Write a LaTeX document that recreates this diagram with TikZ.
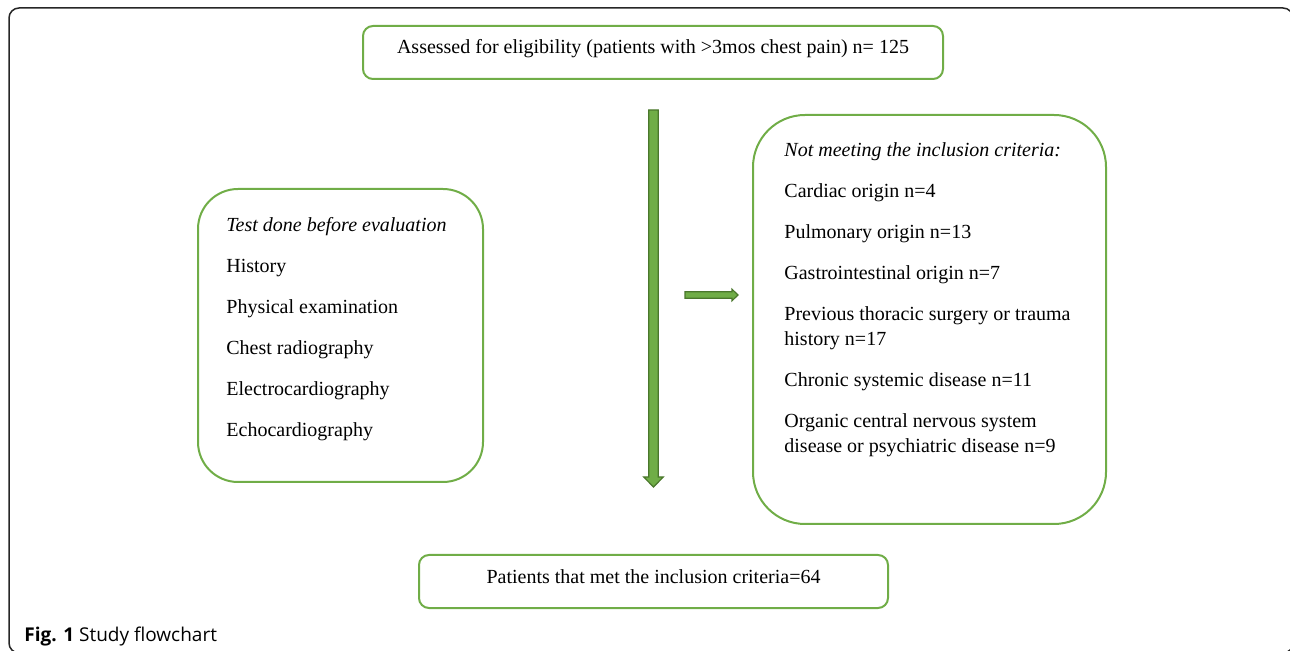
\documentclass[tikz,border=0pt]{standalone}
\usepackage{fontspec}
\setmainfont{Liberation Serif}
\newfontfamily\capfont{Open Sans}
\usetikzlibrary{calc}
\definecolor{fgrn}{HTML}{70AD47}
\definecolor{fdk}{HTML}{4A772C}
\newcommand{\ftext}{\fontsize{10}{12.5}\selectfont}
\tikzset{
  fbox/.style={draw=fgrn,line width=1pt,rounded corners=5pt,inner sep=0pt,minimum height=26.5pt,font=\ftext},
  fpanel/.style={draw=fgrn,line width=1pt,inner sep=0pt},
  flist/.style={anchor=north west,inner sep=0pt,align=left,font=\ftext},
  fframe/.style={line width=0.75pt,black!85,rounded corners=5pt},
  fatarrow/.style n args={3}{fill=fgrn,draw=fdk,line width=0.6pt,line join=miter,
    to path={-- ($(\tikztostart)!#1!90:(\tikztotarget)$)
      -- ($($(\tikztotarget)!#3!(\tikztostart)$)!#1!90:(\tikztotarget)$)
      -- ($($(\tikztotarget)!#3!(\tikztostart)$)!#2!90:(\tikztotarget)$)
      -- (\tikztotarget)
      -- ($($(\tikztotarget)!#3!(\tikztostart)$)!#2!-90:(\tikztotarget)$)
      -- ($($(\tikztotarget)!#3!(\tikztostart)$)!#1!-90:(\tikztotarget)$)
      -- ($(\tikztostart)!#1!-90:(\tikztotarget)$) -- cycle}},
}
\begin{document}
\begin{tikzpicture}[x=0.5pt,y=-0.5pt]
\useasboundingbox (0,0) rectangle (1290,651);
% ---- outer figure frame (runs off the right and bottom edges)
\draw[fframe] (9,8) rectangle (1293,653);
% ---- top and bottom boxes
\node[fbox,minimum width=290pt,text height=7.8pt,text depth=7pt] (elig) at (653,52.5)
  {Assessed for eligibility (patients with >3mos chest pain) n= 125};
\node[fbox,minimum width=234.5pt,text height=8.5pt,text depth=7pt] (met) at (653.5,581.5)
  {Patients that met the inclusion criteria=64};
% ---- the two side panels
\node[fpanel,rounded corners=20pt,minimum width=142.5pt,minimum height=146.5pt] (tests) at (340.5,335.5) {};
\node[flist] (testlist) at ([xshift=14.5pt,yshift=-14.5pt]tests.north west)
  {\textit{Test done before evaluation}\\[8pt]
   History\\[8pt]
   Physical examination\\[8pt]
   Chest radiography\\[8pt]
   Electrocardiography\\[8pt]
   Echocardiography};
\node[fpanel,rounded corners=26pt,minimum width=176.5pt,minimum height=204.5pt] (excl) at (929.5,319.5) {};
\node[flist] (excllist) at ([xshift=16pt,yshift=-14.2pt]excl.north west)
  {\textit{Not meeting the inclusion criteria:}\\[8pt]
   Cardiac origin n=4\\[8pt]
   Pulmonary origin n=13\\[8pt]
   Gastrointestinal origin n=7\\[8pt]
   Previous thoracic surgery or trauma\\
   history n=17\\[8pt]
   Chronic systemic disease n=11\\[8pt]
   Organic central nervous system\\
   disease or psychiatric disease n=9};
% ---- block arrows
\coordinate (dtop) at ([xshift=0.25pt,yshift=-15pt]elig.south);
\coordinate (dend) at ([yshift=33.5pt]met.north);
\draw[fatarrow={2.4pt}{4.9pt}{5pt}] (dtop) to (dend);
\coordinate (rtip) at ([xshift=-7pt,yshift=12.25pt]excl.west);
\coordinate (rtail) at ([xshift=-26.5pt]rtip);
\draw[fatarrow={1.6pt}{2.9pt}{3pt}] (rtail) to (rtip);
% ---- caption
\node[anchor=base west,inner sep=0pt,font=\capfont\fontsize{9.5}{11}\selectfont] (cap) at (24,641)
  {\textbf{Fig. 1} Study flowchart};
\end{tikzpicture}
\end{document}
